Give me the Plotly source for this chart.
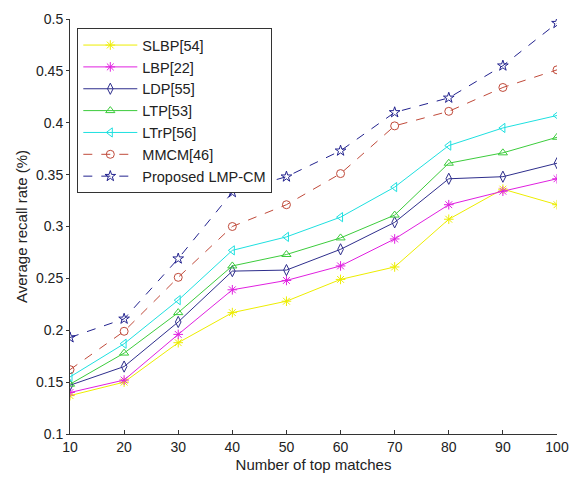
import plotly.graph_objects as go

# number of top matches
top_matches = [10, 20, 30, 40, 50, 60, 70, 80, 90, 100]

# average recall rate per method
slbp = [0.137, 0.150, 0.188, 0.217, 0.228, 0.249, 0.261, 0.307, 0.336, 0.321]
lbp = [0.140, 0.152, 0.196, 0.239, 0.248, 0.262, 0.288, 0.321, 0.334, 0.346]
ldp = [0.147, 0.165, 0.208, 0.257, 0.258, 0.278, 0.304, 0.346, 0.348, 0.361]
ltp = [0.148, 0.178, 0.217, 0.262, 0.273, 0.289, 0.311, 0.361, 0.371, 0.386]
ltrp = [0.155, 0.187, 0.229, 0.277, 0.290, 0.309, 0.338, 0.378, 0.395, 0.407]
mmcm = [0.162, 0.199, 0.251, 0.300, 0.321, 0.351, 0.397, 0.411, 0.434, 0.451]
proposed = [0.193, 0.211, 0.269, 0.333, 0.348, 0.373, 0.410, 0.424, 0.455, 0.496]

series = [
    ("SLBP[54]", slbp, "#eded00", "asterisk-open", "solid"),
    ("LBP[22]", lbp, "#e020e0", "asterisk-open", "solid"),
    ("LDP[55]", ldp, "#2e2e8c", "diamond-tall-open", "solid"),
    ("LTP[53]", ltp, "#3ccc3c", "triangle-up-open", "solid"),
    ("LTrP[56]", ltrp, "#1ee0e0", "triangle-left-open", "solid"),
    ("MMCM[46]", mmcm, "#c04a3a", "circle-open", "dash"),
    ("Proposed LMP-CM", proposed, "#22228e", "star-open", "dash"),
]

fig = go.Figure()

for name, vals, color, symbol, dash in series:
    fig.add_trace(go.Scatter(
        x=top_matches,
        y=vals,
        name=name,
        mode="lines+markers",
        line=dict(color=color, width=1, dash=dash),
        marker=dict(symbol=symbol, size=8, color=color, line=dict(width=1, color=color)),
    ))

fig.update_layout(
    width=569,
    height=478,
    margin=dict(l=70, r=12, t=19, b=44),
    paper_bgcolor="white",
    plot_bgcolor="white",
    font=dict(family="Liberation Sans, Arial", color="#222222", size=14),
    legend=dict(
        x=0.015, y=0.978, xanchor="left", yanchor="top",
        bordercolor="#333333", borderwidth=1, bgcolor="white",
        font=dict(size=14.5), itemwidth=54, tracegroupgap=0,
    ),
    showlegend=True,
)

fig.update_xaxes(
    range=[10, 100], dtick=10, tick0=10,
    showline=True, linecolor="#333333", linewidth=1,
    ticks="inside", ticklen=4, tickcolor="#333333",
    showgrid=False, zeroline=False, automargin=False,
    title=dict(text="Number of top matches", font=dict(size=15), standoff=5),
)
fig.update_yaxes(
    range=[0.1, 0.5], dtick=0.05, tick0=0.1,
    showline=True, linecolor="#333333", linewidth=1,
    ticks="outside", ticklen=3, tickcolor="#333333",
    showgrid=False, zeroline=False, automargin=False,
    title=dict(text="Average recall rate (%)", font=dict(size=15), standoff=4),
)

# drop the default 8px page margin so the figure fills the window
fig.write_html("out.html", config={"displayModeBar": False},
               post_script="document.body.style.margin='0';")
